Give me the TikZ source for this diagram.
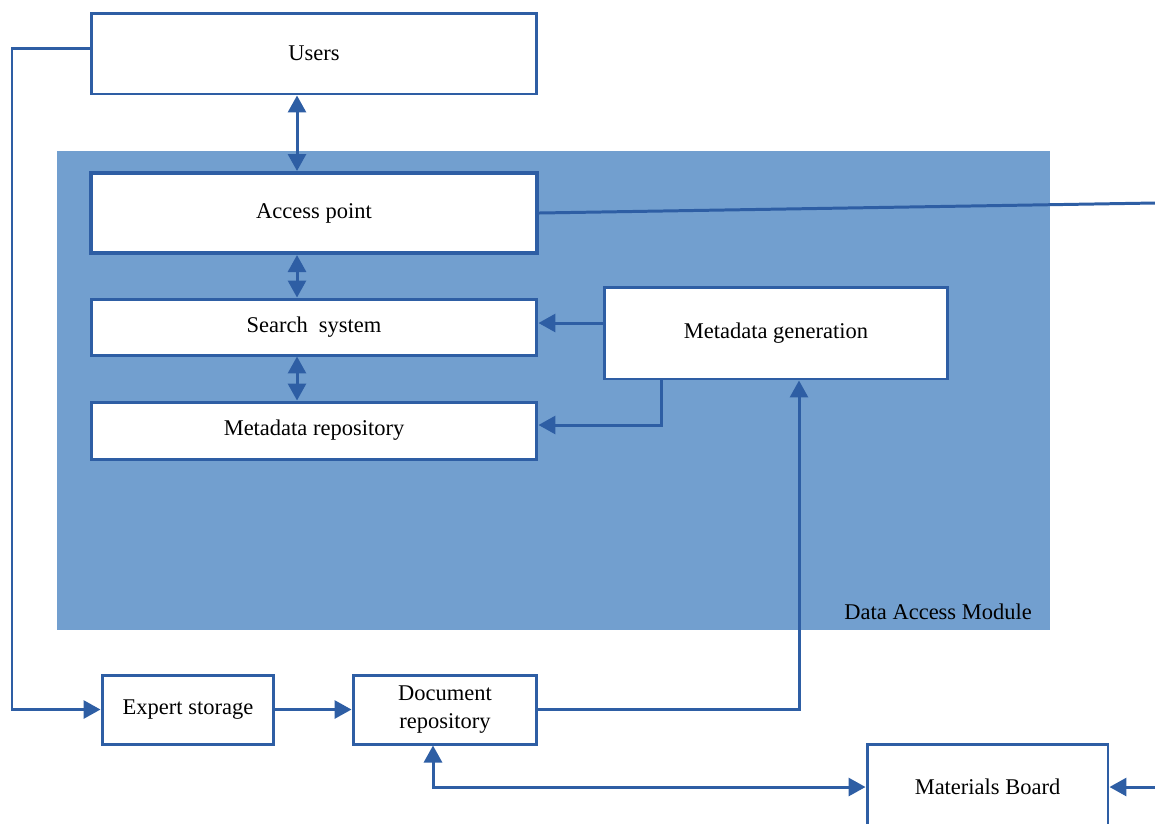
\documentclass[tikz,border=0pt]{standalone}
\usepackage{fontspec}
\setmainfont{Liberation Serif}
\usetikzlibrary{arrows.meta}

\definecolor{modulblau}{RGB}{114,159,207}
\definecolor{linienblau}{RGB}{46,94,164}

\begin{document}
\begin{tikzpicture}[x=0.02cm, y=-0.02cm,
    kasten/.style={draw=linienblau, line width=1.7pt, fill=white, inner sep=2pt,
                   align=center, font=\fontsize{12.8}{15}\selectfont},
    pfeil/.style={draw=linienblau, line width=1.7pt,
                  -{Triangle[length=0.34cm,width=0.36cm]}},
    dpfeil/.style={draw=linienblau, line width=1.7pt,
                   {Triangle[length=0.34cm,width=0.36cm]}-{Triangle[length=0.34cm,width=0.36cm]}},
    linie/.style={draw=linienblau, line width=1.7pt}]

    % -- Rahmen --
    \clip (0,0) rectangle (1155,823);

    % -- Data Access Module (Hintergrund) --
    \fill[modulblau] (57,151) rectangle (1050,630);
    \node[anchor=base east, font=\fontsize{12.8}{15}\selectfont] (modul) at (1038,619) {Data Access Module};

    % -- Kaesten --
    \node[kasten, minimum width=8.92cm, minimum height=1.62cm] (users) at (314,53.5) {Users};
    \node[kasten, line width=2.3pt, minimum width=8.92cm, minimum height=1.6cm] (access) at (314,213) {Access point};
    \node[kasten, minimum width=8.92cm, minimum height=1.12cm] (search) at (314,327) {Search~~system};
    \node[kasten, minimum width=8.92cm, minimum height=1.14cm] (metarepo) at (314,430.5) {Metadata repository};
    \node[kasten, minimum width=6.88cm, minimum height=1.84cm] (metagen) at (776,333) {Metadata generation};
    \node[kasten, minimum width=3.44cm, minimum height=1.38cm] (expert) at (188,709.5) {Expert storage};
    \node[kasten, minimum width=3.68cm, minimum height=1.38cm] (docrepo) at (445,709.5) {Document\\[1pt]repository};
    \node[kasten, minimum width=4.82cm, minimum height=1.72cm] (board) at (987.5,787) {Materials Board};

    % -- Hilfspunkte am Rand --
    \coordinate (linksrand) at (12,48);
    \coordinate (rechtsoben) at (1155,203);
    \coordinate (rechtsunten) at (1155,787);

    % -- Verbindungen im Modul --
    \draw[dpfeil] ([xshift=-0.34cm]users.south) -- ([xshift=-0.34cm]access.north);
    \draw[dpfeil] ([xshift=-0.34cm]access.south) -- ([xshift=-0.34cm]search.north);
    \draw[dpfeil] ([xshift=-0.34cm]search.south) -- ([xshift=-0.34cm]metarepo.north);
    \draw[pfeil] ([yshift=0.2cm]metagen.west) -- ([yshift=0.2cm]metagen.west -| search.east);
    \draw[pfeil] ([xshift=-2.3cm]metagen.south) |- ([yshift=0.11cm]metarepo.east);
    \draw[linie] (access.east) -- (rechtsoben);

    % -- Verbindungen unten --
    \draw[pfeil] (users.west |- linksrand) -- (linksrand) |- (expert.west);
    \draw[pfeil] (expert.east) -- (docrepo.west);
    \draw[pfeil] (docrepo.east) -| ([xshift=0.46cm]metagen.south);
    \draw[dpfeil] ([xshift=-0.24cm]docrepo.south) |- (board.west);
    \draw[pfeil] (rechtsunten) -- (board.east);
\end{tikzpicture}
\end{document}
